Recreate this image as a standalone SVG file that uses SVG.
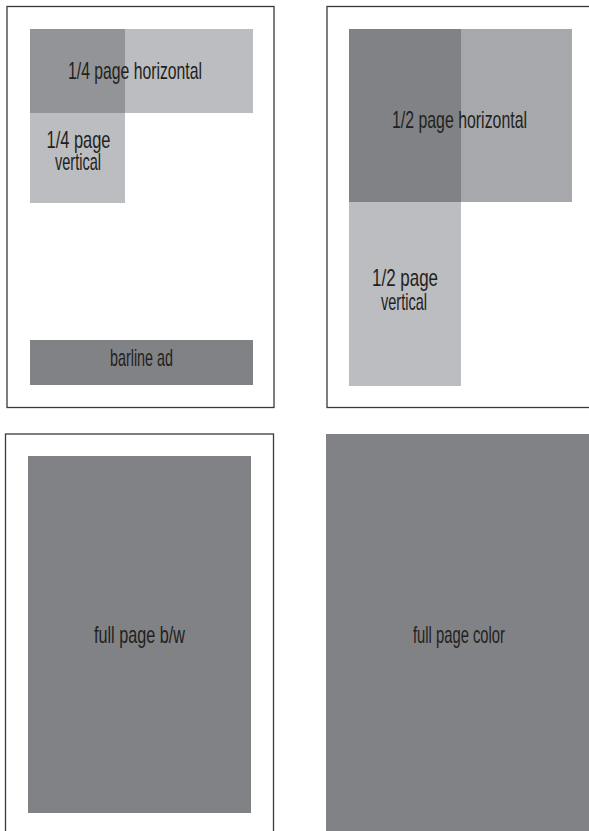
<svg xmlns="http://www.w3.org/2000/svg" width="589" height="831" viewBox="0 0 589 831">
<style>
.page{fill:#ffffff;stroke:#3a3a3c;stroke-width:1.3}
.dark{fill:#818285}
.light{fill:#bcbdc1}
.mid{fill:#a7a8ab}
.lbl{font-family:"Liberation Sans","DejaVu Sans",sans-serif;font-size:24px;fill:#231f20;text-anchor:middle}
</style>
<rect width="589" height="831" fill="#ffffff"/>
<g id="page-quarter">
<rect class="page" x="7" y="6.5" width="267" height="401"/>
<rect class="light" x="30" y="29" width="223" height="84"/>
<rect x="30" y="29" width="95" height="84" fill="#939497"/>
<rect class="light" x="30" y="113" width="95" height="90"/>
<text class="lbl" x="135" y="79" textLength="134" lengthAdjust="spacingAndGlyphs">1/4 page horizontal</text>
<text class="lbl" x="78.5" y="148" textLength="64" lengthAdjust="spacingAndGlyphs">1/4 page</text>
<text class="lbl" x="78" y="170" textLength="46" lengthAdjust="spacingAndGlyphs">vertical</text>
</g>
<g id="barline">
<rect class="dark" x="30" y="340" width="223" height="45"/>
<text class="lbl" x="141.5" y="366" textLength="63" lengthAdjust="spacingAndGlyphs">barline ad</text>
</g>
<g id="page-half">
<rect class="page" x="327" y="6.5" width="270" height="401"/>
<rect class="mid" x="349" y="29" width="223" height="173"/>
<rect class="dark" x="349" y="29" width="112" height="173"/>
<rect class="light" x="349" y="202" width="112" height="184"/>
<text class="lbl" x="459.5" y="128" textLength="135" lengthAdjust="spacingAndGlyphs">1/2 page horizontal</text>
<text class="lbl" x="405" y="286" textLength="66" lengthAdjust="spacingAndGlyphs">1/2 page</text>
<text class="lbl" x="404" y="310" textLength="46" lengthAdjust="spacingAndGlyphs">vertical</text>
</g>
<g id="page-full-bw">
<rect class="page" x="5.5" y="434" width="268" height="410"/>
<rect class="dark" x="28" y="456" width="223" height="357"/>
<text class="lbl" x="139.5" y="643" textLength="91" lengthAdjust="spacingAndGlyphs">full page b/w</text>
</g>
<g id="page-full-color">
<rect class="dark" x="326" y="434" width="270" height="410"/>
<text class="lbl" x="459" y="643" textLength="92" lengthAdjust="spacingAndGlyphs">full page color</text>
</g>
</svg>
